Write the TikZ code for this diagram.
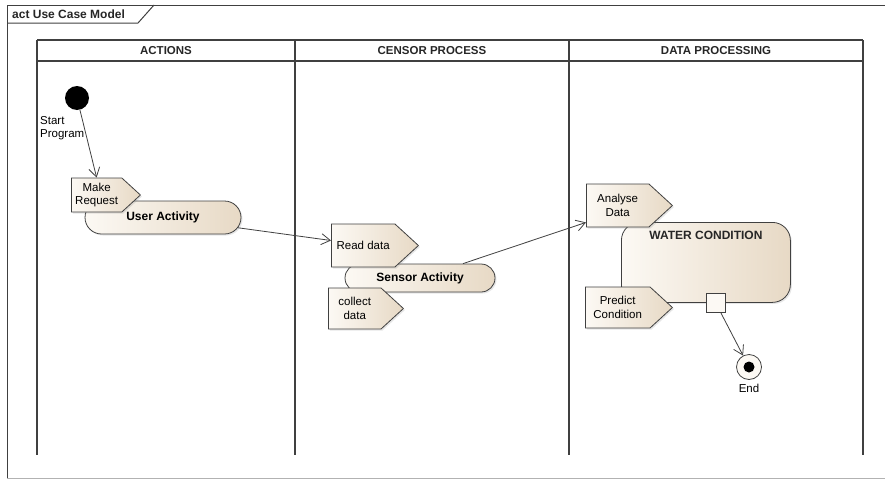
\documentclass[tikz,border=0pt]{standalone}
\usepackage{fontspec}
\setmainfont{Liberation Sans}
\usetikzlibrary{positioning,arrows.meta,shapes.symbols,shapes.misc,shadows}

\definecolor{umlline}{RGB}{64,64,64}
\definecolor{umlfillL}{RGB}{252,249,244}
\definecolor{umlfillR}{RGB}{231,217,197}

\begin{document}
\begin{tikzpicture}[
        x=1pt, y=-1pt,
        lane/.style={draw=umlline, line width=1.4pt},
        lanehead/.style={font=\fontsize{11.5}{13}\selectfont\bfseries, text=black!85},
        umlshape/.style={
            draw=umlline,
            thick,
            left color=umlfillL,
            right color=umlfillR,
            drop shadow={opacity=0.2, shadow xshift=1.5pt, shadow yshift=-1.5pt}
        },
        activity/.style={
            umlshape,
            rounded rectangle,
            inner sep=0pt,
            font=\fontsize{12}{14}\selectfont\bfseries
        },
        pinbox/.style={
            umlshape,
            signal,
            signal to=east,
            signal pointer angle=85,
            inner sep=1pt,
            align=center,
            anchor=west,
            font=\fontsize{11.5}{13.5}\selectfont
        },
        txt/.style={font=\fontsize{11.5}{13.5}\selectfont, align=left, inner sep=1pt},
        flow/.style={
            draw=umlline,
            thick,
            -{Straight Barb[length=9pt,width=11pt]}
        }
    ]
    \useasboundingbox (0,0) rectangle (885,479);

    % Frame and title tab
    \draw[umlline, line width=1pt] (885,5) -- (7,5) -- (7,478);
    \draw[black!30, line width=1pt] (7,478) -- (885,478);
    \draw[umlline, line width=1pt] (7,23) -- (138,23) -- (154,5);
    \node[lanehead, font=\fontsize{12}{14}\selectfont\bfseries, anchor=west, inner sep=0pt] (frametitle) at (12,14) {act Use Case Model};

    % Swimlanes
    \draw[lane] (37,40) -- (863,40);
    \draw[lane] (37,61) -- (863,61);
    \foreach \x in {37,295,569,863}
        \draw[lane] (\x,40) -- (\x,455);
    \node[lanehead] (hdactions) at (166,51) {ACTIONS};
    \node[lanehead] (hdcensor) at (432,51) {CENSOR PROCESS};
    \node[lanehead] (hddata) at (716,51) {DATA PROCESSING};

    % Activities
    \node[activity, minimum width=156pt, minimum height=33pt] (useract) at (163,217.5) {User Activity};
    \node[activity, minimum width=150pt, minimum height=28pt] (sensoract) at (420,278) {Sensor Activity};
    \node[umlshape, rounded corners=18pt, minimum width=169pt, minimum height=80pt, anchor=north west] (water) at (621,222) {};
    \node[lanehead, font=\fontsize{12}{14}\selectfont\bfseries, below=6pt of water.north] (watertxt) {WATER CONDITION};

    % Pins
    \node[pinbox, minimum width=69pt, minimum height=34pt] (mkreq) at (71,195) {Make\\Request};
    \node[pinbox, minimum width=87pt, minimum height=43pt] (readdata) at (331,245.5) {Read data};
    \node[pinbox, minimum width=75pt, minimum height=41pt] (collect) at (328,308.5) {collect\\data};
    \node[pinbox, minimum width=86pt, minimum height=43pt] (analyse) at (586,205.5) {Analyse\\Data};
    \node[pinbox, minimum width=87pt, minimum height=41pt] (predict) at (585,307.5) {Predict\\Condition};
    \node[draw=umlline, thick, fill=umlfillL, minimum size=19pt, inner sep=0pt] (outpin) at (715.5,302.5) {};

    % Initial and final nodes
    \node[circle, fill=black, minimum size=24pt, inner sep=0pt] (start) at (77,98) {};
    \node[txt, anchor=north west] (startlbl) at (39,115) {Start\\Program};
    \node[circle, draw=umlline, thick, fill=umlfillL, minimum size=25pt, inner sep=0pt,
        path picture={\fill[black] (path picture bounding box.center) circle (5.5pt);}] (endnode) at (749,367) {};
    \node[txt, below=3pt of endnode] (endlbl) {End};

    % Flows
    \draw[flow] (start) -- (mkreq.north);
    \draw[flow] (useract) -- ([yshift=5pt]readdata.west);
    \draw[flow] (sensoract) -- ([yshift=5pt]analyse.south west);
    \draw[flow] (outpin) -- (endnode);

\end{tikzpicture}
\end{document}
